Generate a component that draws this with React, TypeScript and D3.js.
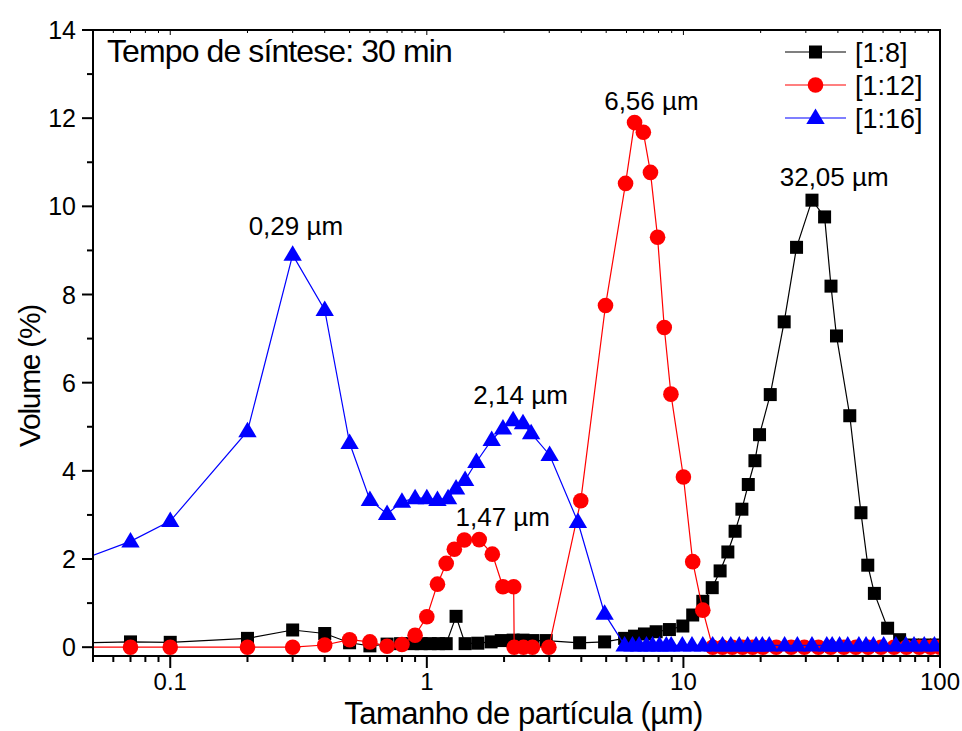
import * as d3 from "d3";

// particle size (µm) and volume (%) for each ratio
const size8 = [0.04, 0.07, 0.1, 0.2, 0.3, 0.4, 0.5, 0.6, 0.7, 0.79, 0.88, 0.95, 1.03, 1.11, 1.19, 1.3, 1.41, 1.58, 1.78, 1.95, 2.17, 2.37, 2.59, 2.92, 3.94, 4.93, 5.9, 6.45, 7.05, 7.83, 8.82, 9.95, 10.87, 11.9, 12.95, 13.9, 14.9, 15.9, 16.9, 17.9, 19.0, 19.8, 21.8, 24.7, 27.6, 31.7, 35.5, 37.6, 39.5, 44.5, 49.2, 52.3, 55.5, 62.5, 69.6, 78, 87, 97];
const vol8 = [0.09, 0.12, 0.11, 0.2, 0.39, 0.31, 0.1, 0.03, 0.07, 0.08, 0.08, 0.08, 0.08, 0.08, 0.08, 0.7, 0.08, 0.09, 0.12, 0.15, 0.16, 0.16, 0.15, 0.15, 0.1, 0.12, 0.2, 0.25, 0.3, 0.35, 0.4, 0.48, 0.73, 1.04, 1.35, 1.73, 2.16, 2.63, 3.13, 3.69, 4.23, 4.82, 5.73, 7.38, 9.07, 10.14, 9.76, 8.19, 7.06, 5.25, 3.05, 1.86, 1.22, 0.43, 0.17, 0.05, 0.05, 0.05];

const size12 = [0.04, 0.07, 0.1, 0.2, 0.3, 0.4, 0.5, 0.6, 0.7, 0.8, 0.9, 1.0, 1.1, 1.19, 1.28, 1.4, 1.6, 1.8, 1.98, 2.18, 2.19, 2.38, 2.58, 2.99, 3.98, 4.97, 5.95, 6.45, 6.98, 7.44, 7.93, 8.42, 8.94, 10.0, 10.87, 11.9, 13.0, 14.2, 15.5, 17.0, 18.6, 20.4, 23.0, 26.3, 29.6, 33.6, 37.5, 42.2, 47.0, 52.5, 58.9, 66.2, 74, 83, 92, 100];
const vol12 = [0, 0, 0, 0, 0, 0.05, 0.17, 0.12, 0.02, 0.06, 0.27, 0.69, 1.43, 1.9, 2.22, 2.43, 2.44, 2.11, 1.37, 1.37, 0, 0, 0, 0, 3.32, 7.75, 10.52, 11.9, 11.68, 10.77, 9.3, 7.25, 5.74, 3.86, 1.94, 0.84, 0, 0, 0, 0, 0, 0, 0, 0, 0, 0, 0, 0, 0, 0, 0, 0, 0, 0, 0, 0];

const size16 = [0.04, 0.07, 0.1, 0.2, 0.3, 0.4, 0.5, 0.6, 0.7, 0.8, 0.9, 1.0, 1.1, 1.21, 1.3, 1.41, 1.56, 1.79, 1.98, 2.17, 2.37, 2.55, 3.01, 3.88, 4.93, 5.9, 6.33, 6.72, 7.18, 7.58, 8.07, 8.58, 8.96, 9.9, 10.8, 11.9, 13.0, 14.2, 15.3, 16.5, 17.8, 19.2, 20.3, 21.6, 24.8, 27.8, 31.7, 36.2, 38.0, 40.6, 43.7, 48.3, 51.5, 55.0, 60.3, 67.3, 73.6, 79.2, 86.8, 95.1];
const vol16 = [1.87, 2.4, 2.86, 4.9, 8.9, 7.65, 4.63, 3.34, 3.02, 3.3, 3.38, 3.38, 3.34, 3.38, 3.6, 3.79, 4.2, 4.7, 4.96, 5.15, 5.08, 4.85, 4.36, 2.84, 0.76, 0.04, 0.04, 0.04, 0.04, 0.04, 0.04, 0.04, 0.04, 0.04, 0.04, 0.04, 0.04, 0.04, 0.04, 0.04, 0.04, 0.04, 0.04, 0.04, 0.04, 0.04, 0.04, 0.04, 0.04, 0.04, 0.04, 0.04, 0.04, 0.04, 0.04, 0.04, 0.04, 0.04, 0.04, 0.04];

const seriesNames = ["[1:8]", "[1:12]", "[1:16]"];
const seriesColors = ["#000000", "#ff0000", "#0000ff"];

// peak labels
const peakSizes = [0.29, 2.14, 1.47, 6.56, 32.05];
const peakVols = [8.9, 5.15, 2.44, 11.9, 10.14];
const peakText = ["0,29 µm", "2,14 µm", "1,47 µm", "6,56 µm", "32,05 µm"];

const yTickVals = [0, 2, 4, 6, 8, 10, 12, 14];
const xTickLabels = ["0.1", "1", "10", "100"];
const xMajor = [0.1, 1, 10, 100];

const W = 962;
const H = 731;
const m = { left: 93, right: 940, top: 30, bottom: 656 };
const FONT = "'Liberation Sans', Arial, sans-serif";

const Marker = ({ kind, x, y, color }: { kind: number; x: number; y: number; color: string }) => {
  if (kind === 0) return <rect x={x - 6.5} y={y - 6.5} width={13} height={13} fill={color} />;
  if (kind === 1) return <circle cx={x} cy={y} r={7.8} fill={color} />;
  return <path d={`M${x},${y - 9.5} L${x + 9.2},${y + 6} L${x - 9.2},${y + 6} Z`} fill={color} />;
};

export default function App() {
  const x = d3.scaleLog().domain([0.05, 100]).range([m.left, m.right]);
  const y = d3.scaleLinear().domain([-0.2, 14]).range([m.bottom, m.top]);

  const data = [
    d3.zip(size8, vol8),
    d3.zip(size12, vol12),
    d3.zip(size16, vol16),
  ];

  const line = d3
    .line<number[]>()
    .x((d) => x(d[0]))
    .y((d) => y(d[1]));

  const allTicks = x.ticks();
  const minorX = allTicks.filter((t) => !xMajor.some((v) => Math.abs(v - t) < 1e-9));
  const minorY = d3.range(1, 14, 2);

  // label offsets relative to peak point
  const labelDy = [-20, -16, -14, -13, -14];
  const labelDx = [7, 9, 33, 15, 21];

  return (
    <svg width={W} height={H} style={{ position: "absolute", left: 0, top: 0, background: "#fff" }} fontFamily={FONT}>
      <defs>
        <clipPath id="plot">
          <rect x={m.left} y={m.top} width={m.right - m.left} height={m.bottom - m.top} />
        </clipPath>
      </defs>

      <g clipPath="url(#plot)">
        {data.map((pts, i) => (
          <g key={i}>
            <path d={line(pts) ?? ""} fill="none" stroke={seriesColors[i]} strokeWidth={1.2} />
            {pts.map((d, j) => (
              <Marker key={j} kind={i} x={x(d[0])} y={y(d[1])} color={seriesColors[i]} />
            ))}
          </g>
        ))}
      </g>

      {/* frame */}
      <rect x={m.left} y={m.top} width={m.right - m.left} height={m.bottom - m.top} fill="none" stroke="#000" strokeWidth={2} />

      {/* y axis */}
      {yTickVals.map((v) => (
        <g key={v}>
          <line x1={m.left - 11} x2={m.left} y1={y(v)} y2={y(v)} stroke="#000" strokeWidth={2} />
          <text x={m.left - 17} y={y(v)} dy="0.36em" textAnchor="end" fontSize={25}>
            {v}
          </text>
        </g>
      ))}
      {minorY.map((v) => (
        <line key={v} x1={m.left - 6} x2={m.left} y1={y(v)} y2={y(v)} stroke="#000" strokeWidth={2} />
      ))}

      {/* x axis */}
      {xMajor.map((v, i) => (
        <g key={v}>
          <line x1={x(v)} x2={x(v)} y1={m.bottom} y2={m.bottom + 12} stroke="#000" strokeWidth={2} />
          <line x1={x(v)} x2={x(v)} y1={m.top} y2={m.top + 5} stroke="#000" strokeWidth={1} />
          <text x={x(v)} y={m.bottom + 34} textAnchor="middle" fontSize={24}>
            {xTickLabels[i]}
          </text>
        </g>
      ))}
      {minorX.map((v) => (
        <g key={v}>
          <line x1={x(v)} x2={x(v)} y1={m.bottom} y2={m.bottom + 6} stroke="#000" strokeWidth={2} />
          <line x1={x(v)} x2={x(v)} y1={m.top} y2={m.top + 3} stroke="#000" strokeWidth={1} />
        </g>
      ))}

      {/* axis titles */}
      <text x={(m.left + m.right) / 2 + 7} y={724} textAnchor="middle" fontSize={31} letterSpacing={-0.5}>
        Tamanho de partícula (µm)
      </text>
      <text transform={`translate(40,376) rotate(-90)`} textAnchor="middle" fontSize={30} letterSpacing={-1.3}>
        Volume (%)
      </text>

      <text x={107} y={62} fontSize={32} letterSpacing={-0.9}>
        Tempo de síntese: 30 min
      </text>

      {/* peak labels */}
      {peakSizes.map((s, i) => (
        <text key={i} x={x(s) + labelDx[i]} y={y(peakVols[i]) + labelDy[i]} textAnchor="middle" fontSize={26}>
          {peakText[i]}
        </text>
      ))}

      {/* legend */}
      {seriesNames.map((name, i) => {
        const ly = 52 + i * 33;
        return (
          <g key={name}>
            <line x1={785} x2={846} y1={ly} y2={ly} stroke={seriesColors[i]} strokeWidth={1.2} />
            <Marker kind={i} x={815.5} y={ly} color={seriesColors[i]} />
            <text x={855} y={ly} dy="0.36em" fontSize={27}>
              {name}
            </text>
          </g>
        );
      })}
    </svg>
  );
}
